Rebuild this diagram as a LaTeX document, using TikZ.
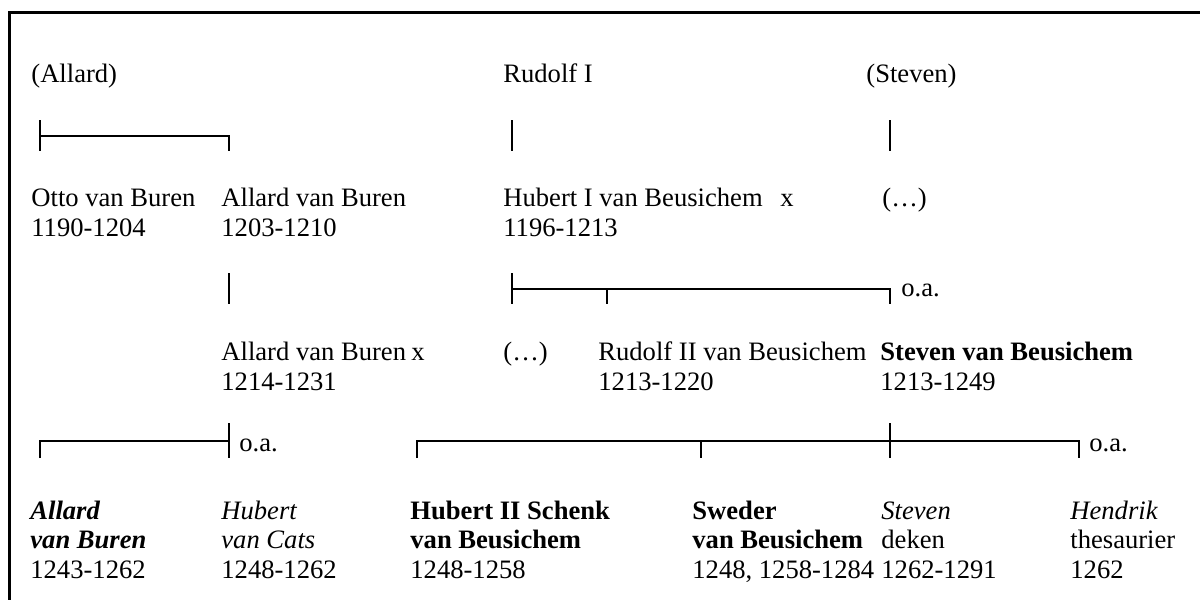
\documentclass[tikz,border=0pt]{standalone}
\usepackage{fontspec}
\setmainfont{Liberation Serif}
\tikzset{person/.style={anchor=base west, align=left, inner sep=0pt, font=\fontsize{13.3}{14.6}\selectfont},
famline/.style={line width=1pt}}

\begin{document}
\begin{tikzpicture}[x=0.5pt,y=-0.5pt]
\useasboundingbox (0,0) rectangle (1200,600);
% frame
\draw [line width=1.5pt] (1220,12.5) -- (9.5,12.5) -- (9.5,620);

% generation 1
\node[person] (allard0) at (31,82) {(Allard)};
\node[person] (rudolf1) at (503,82) {Rudolf I};
\node[person] (steven0) at (866,82) {(Steven)};

% generation 2 (base = last line)
\node[person] (otto) at (31,236) {Otto van Buren\\1190-1204};
\node[person] (allard1) at (221,236) {Allard van Buren\\1203-1210};
\node[person] (hubert1) at (503,236) {Hubert I van Beusichem\\1196-1213};
\node[person] (xA) at (780,206) {x};
\node[person] (wife1) at (882,206) {(…)};

% generation 3
\node[person] (allard2) at (221,390) {Allard van Buren\\1214-1231};
\node[person] (xB) at (411,360) {x};
\node[person] (wife2) at (503,360) {(…)};
\node[person] (rudolf2) at (598,390) {Rudolf II van Beusichem\\1213-1220};
\node[person] (steven1) at (880,390) {\textbf{Steven van Beusichem}\\1213-1249};

% generation 4
\node[person] (allard3) at (30,578) {\textbf{\textit{Allard}}\\\textbf{\textit{van Buren}}\\1243-1262};
\node[person] (hubertC) at (221,578) {\textit{Hubert}\\\textit{van Cats}\\1248-1262};
\node[person] (hubert2) at (410,578) {\textbf{Hubert II Schenk}\\\textbf{van Beusichem}\\1248-1258};
\node[person] (sweder) at (692,578) {\textbf{Sweder}\\\textbf{van Beusichem}\\1248, 1258-1284};
\node[person] (steven2) at (881,578) {\textit{Steven}\\deken\\1262-1291};
\node[person] (hendrik) at (1070,578) {\textit{Hendrik}\\thesaurier\\1262};

%lines 1 -> 2
\coordinate (barA1) at (40,136);
\coordinate (barA2) at (229,136);
\draw[famline] (barA1) -- (barA2) -- ++(0,15);
\draw[famline] (barA1) ++(0,-16) -- ++(0,31);
\coordinate (stemR) at (512,120);
\coordinate (stemS) at (890,120);
\foreach \s in {stemR,stemS}
     \draw[famline] (\s) -- ++(0,31);

%lines 2 -> 3
\coordinate (stemA) at (229,273);
\draw[famline] (stemA) -- ++(0,31);
\coordinate (barH1) at (512,289);
\coordinate (barH2) at (607,289);
\coordinate (barH3) at (890,289);
\draw[famline] (barH1) -- (barH3) -- ++(0,15);
\draw[famline] (barH2) -- ++(0,15);
\draw[famline] (barH1) ++(0,-16) -- ++(0,31);
\node[person] (oaH) at (901,296) {o.a.};

%lines 3 -> 4
\coordinate (barB1) at (40,441);
\coordinate (barB2) at (229,441);
\draw[famline] (barB1) ++(0,17) -- (barB1) -- (barB2);
\draw[famline] (barB2) ++(0,-18) -- ++(0,35);
\node[person] (oaB) at (239,451) {o.a.};

\coordinate (barS1) at (417,441);
\coordinate (barS2) at (701,441);
\coordinate (barS3) at (890,441);
\coordinate (barS4) at (1079,441);
\draw[famline] (barS1) ++(0,17) -- (barS1) -- (barS4) -- ++(0,17);
\draw[famline] (barS2) -- ++(0,17);
\draw[famline] (barS3) ++(0,-18) -- ++(0,35);
\node[person] (oaS) at (1089,451) {o.a.};

\end{tikzpicture}
\end{document}
